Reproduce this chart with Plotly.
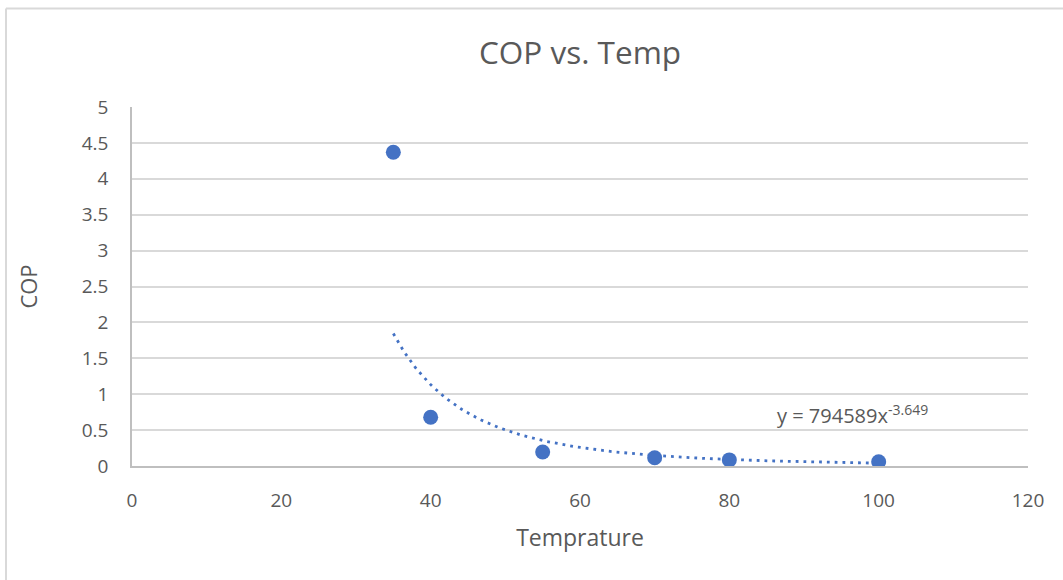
import numpy as np
import plotly.graph_objects as go

# Data
temperature = [35, 40, 55, 70, 80, 100]
cop = [4.37, 0.68, 0.195, 0.115, 0.085, 0.06]

# Power trendline shown on the chart: y = a * x^b
trend_a = 794589
trend_b = -3.649
trend_x = np.linspace(35, 100, 200)
trend_y = trend_a * trend_x ** trend_b

x_ticks = [0, 20, 40, 60, 80, 100, 120]
y_ticks = [0, 0.5, 1, 1.5, 2, 2.5, 3, 3.5, 4, 4.5, 5]
y_tick_text = ["0", "0.5", "1", "1.5", "2", "2.5", "3", "3.5", "4", "4.5", "5"]

BLUE = "#4472C4"
TEXT = "#595959"
FONT = "Open Sans"

fig = go.Figure()
fig.add_trace(go.Scatter(
    x=trend_x, y=trend_y, mode="lines",
    line=dict(color=BLUE, width=2.8, dash="2.8px,5px"),
    hoverinfo="skip", showlegend=False,
))
fig.add_trace(go.Scatter(
    x=temperature, y=cop, mode="markers",
    marker=dict(color=BLUE, size=15, line=dict(width=0)),
    showlegend=False,
))

fig.add_annotation(
    x=96.5, y=0.72, xref="x", yref="y",
    text="y = 794589x<sup>-3.649</sup>",
    showarrow=False, font=dict(family=FONT, size=20, color=TEXT),
)

W, H = 1063, 580
ml, mr, mt, mb = 132, 35, 107, 114
pw = W - ml - mr
ph = H - mt - mb

# chart outer border (top and left visible)
fig.add_shape(type="line", xref="paper", yref="paper",
              x0=(6 - ml) / pw, x1=(W + 5 - ml) / pw,
              y0=(H - mb - 8.5) / ph, y1=(H - mb - 8.5) / ph,
              line=dict(color="#d9d9d9", width=2))
fig.add_shape(type="line", xref="paper", yref="paper",
              x0=(6 - ml) / pw, x1=(6 - ml) / pw,
              y0=(-mb - 5) / ph, y1=(H - mb - 8.5) / ph,
              line=dict(color="#d9d9d9", width=2))

fig.update_layout(
    width=W, height=H,
    margin=dict(l=ml, r=mr, t=mt, b=mb),
    paper_bgcolor="white", plot_bgcolor="white",
    font=dict(family=FONT, color=TEXT),
    title=dict(text="COP vs. Temp", x=0.5, xanchor="center", xref="paper",
               y=1 - 53 / H, yanchor="middle",
               font=dict(family=FONT, size=31.5, color=TEXT)),
    xaxis=dict(
        range=[0, 120], tickvals=x_ticks, ticktext=[str(v) for v in x_ticks],
        showgrid=False, zeroline=False,
        showline=True, linecolor="#bfbfbf", linewidth=1.5,
        ticks="", ticklabelstandoff=16,
        tickfont=dict(family=FONT, size=19, color=TEXT),
        title=dict(text="Temprature", font=dict(family=FONT, size=23, color=TEXT), standoff=18),
    ),
    yaxis=dict(
        range=[0, 5], tickvals=y_ticks, ticktext=y_tick_text,
        showgrid=True, gridcolor="#d9d9d9", gridwidth=1.5, zeroline=False,
        showline=True, linecolor="#bfbfbf", linewidth=1.5,
        ticks="", ticklabelstandoff=18,
        tickfont=dict(family=FONT, size=19, color=TEXT),
        title=dict(text="COP", font=dict(family=FONT, size=22, color=TEXT), standoff=38),
    ),
)

fig.write_html("out.html")
